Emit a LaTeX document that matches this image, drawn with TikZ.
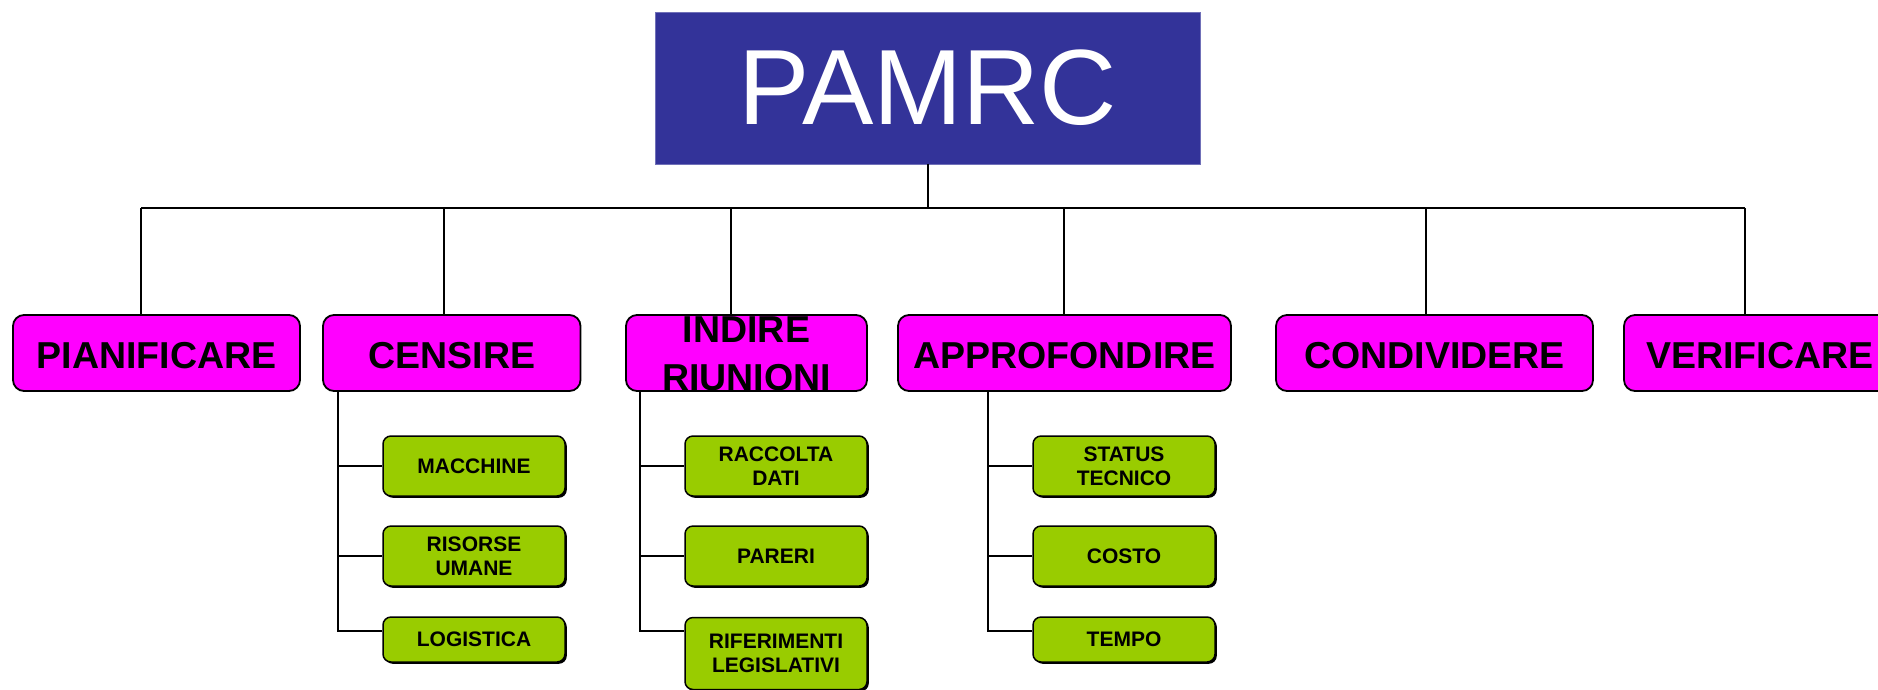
\documentclass[tikz,border=0pt]{standalone}
\usepackage{fontspec}
\setmainfont{Liberation Sans}
\usetikzlibrary{shadows}
\definecolor{rootblue}{HTML}{333399}
\definecolor{mag}{HTML}{FF00FF}
\definecolor{lime}{HTML}{99CC00}
\begin{document}
\begin{tikzpicture}[x=1pt,y=-1pt,
 rootbox/.style={fill=rootblue, draw=rootblue!70!white, line width=0.8pt, inner sep=0pt, text=white, font=\fontsize{107}{110}\selectfont},
 lvlbox/.style={fill=mag, draw=black, line width=1.8pt, rounded corners=11pt, inner sep=0pt, align=center, minimum height=76pt, text height=30pt, text depth=0pt, font=\fontsize{37.5}{48}\selectfont\bfseries},
 lvltext/.style={inner sep=0pt, align=center, font=\fontsize{37.5}{48}\selectfont\bfseries},
 leafbox/.style={fill=lime, draw=black, line width=1.5pt, rounded corners=8pt, inner sep=0pt, align=center, minimum width=182pt, font=\fontsize{21}{24}\selectfont\bfseries, drop shadow={shadow xshift=1.8pt, shadow yshift=-1.8pt, opacity=1, fill=black}},
 link/.style={draw=black, line width=1.8pt}]
\useasboundingbox (0,0) rectangle (1878,689);

% root
\node[rootbox, minimum width=545pt, minimum height=152pt] (root) at (928,88) {PAMRC};

% level 1
\node[lvlbox, minimum width=287pt] (pian) at (156.5,353) {PIANIFICARE};
\node[lvlbox, minimum width=257.5pt] (cens) at (451.75,353) {CENSIRE};
\node[lvlbox, minimum width=241pt] (indi) at (746.5,353) {};
\node[lvltext] (inditxt) at ([yshift=-1pt]indi.center) {INDIRE\\RIUNIONI};
\node[lvlbox, minimum width=333pt] (appr) at (1064.5,353) {APPROFONDIRE};
\node[lvlbox, minimum width=317pt] (cond) at (1434.5,353) {CONDIVIDERE};
\node[lvlbox, minimum width=272pt] (veri) at (1760,353) {VERIFICARE};

% level 2
\node[leafbox, minimum height=60pt] (mac) at (474,466) {MACCHINE};
\node[leafbox, minimum height=60pt] (ris) at (474,556) {RISORSE\\UMANE};
\node[leafbox, minimum height=45pt] (log) at (474,639.5) {LOGISTICA};

\node[leafbox, minimum height=60pt] (rac) at (776,466) {RACCOLTA\\DATI};
\node[leafbox, minimum height=60pt] (par) at (776,556) {PARERI};
\node[leafbox, minimum height=72pt] (rif) at (776,653.5) {RIFERIMENTI\\LEGISLATIVI};

\node[leafbox, minimum height=60pt] (sta) at (1124,466) {STATUS\\TECNICO};
\node[leafbox, minimum height=60pt] (cos) at (1124,556) {COSTO};
\node[leafbox, minimum height=45pt] (tem) at (1124,639.5) {TEMPO};

% bus
\coordinate (d1) at (141,208);
\coordinate (d2) at (444,208);
\coordinate (d3) at (731,208);
\coordinate (d4) at (1064,208);
\coordinate (d5) at (1426,208);
\coordinate (d6) at (1745,208);
\draw[link] (root.south) -- (root.south |- d1);
\draw[link] (d1) -- (d6);
\draw[link] (d1) -- (d1 |- pian.north);
\draw[link] (d2) -- (d2 |- cens.north);
\draw[link] (d3) -- (d3 |- indi.north);
\draw[link] (d4) -- (d4 |- appr.north);
\draw[link] (d5) -- (d5 |- cond.north);
\draw[link] (d6) -- (d6 |- veri.north);

% subtrees
\coordinate (c1t) at (338,391);
\coordinate (c1b) at (338,631);
\draw[link] (c1t) -- (c1b) -- (log.west |- c1b);
\draw[link] (c1t |- mac.west) -- (mac.west);
\draw[link] (c1t |- ris.west) -- (ris.west);

\coordinate (c2t) at (640,391);
\coordinate (c2b) at (640,631);
\draw[link] (c2t) -- (c2b) -- (rif.west |- c2b);
\draw[link] (c2t |- rac.west) -- (rac.west);
\draw[link] (c2t |- par.west) -- (par.west);

\coordinate (c3t) at (988,391);
\coordinate (c3b) at (988,631);
\draw[link] (c3t) -- (c3b) -- (tem.west |- c3b);
\draw[link] (c3t |- sta.west) -- (sta.west);
\draw[link] (c3t |- cos.west) -- (cos.west);
\end{tikzpicture}
\end{document}
